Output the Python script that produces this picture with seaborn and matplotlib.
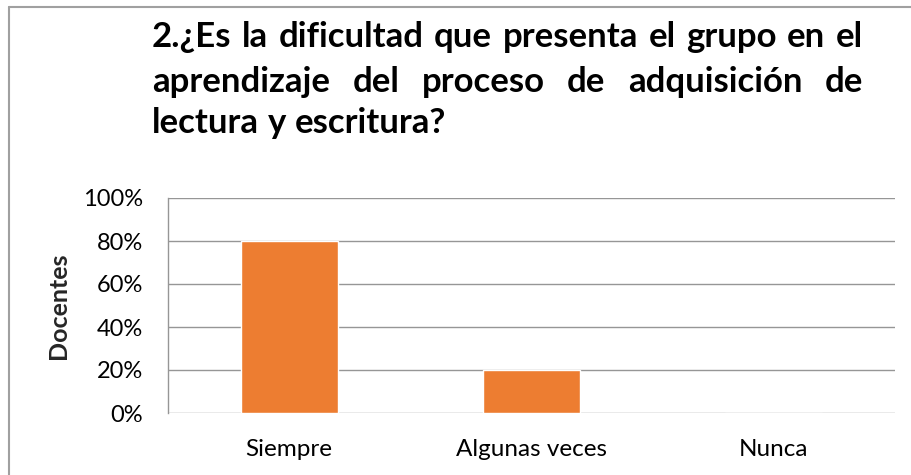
import matplotlib
matplotlib.use("Agg")
import matplotlib.pyplot as plt
import matplotlib.ticker as mtick
from matplotlib.lines import Line2D
import pandas as pd
import seaborn as sns

categorias = ["Siempre", "Algunas veces", "Nunca"]
porcentajes = [0.80, 0.20, 0.00]
titulo = [
    ["2.¿Es", "la", "dificultad", "que", "presenta", "el", "grupo", "en", "el"],
    ["aprendizaje", "del", "proceso", "de", "adquisición", "de"],
    ["lectura", "y", "escritura?"],
]
eje_y = "Docentes"

sns.set_theme(style="white")
plt.rcParams["font.family"] = ["Lato", "DejaVu Sans"]

W, H = 912, 475
fig = plt.figure(figsize=(W / 100, H / 100), dpi=100)
ax = fig.add_axes([168 / W, 62 / H, 727 / W, 215 / H])

df = pd.DataFrame({"cat": categorias, "val": porcentajes})
sns.barplot(data=df, x="cat", y="val", color="#ED7D31", width=0.4,
            saturation=1, ax=ax)

ax.set_ylim(0, 1)
ax.set_yticks([0, 0.2, 0.4, 0.6, 0.8, 1.0])
ax.yaxis.set_major_formatter(mtick.PercentFormatter(1.0, decimals=0))
ax.grid(axis="y", color="#969696", linewidth=1)
ax.set_axisbelow(True)
for s in ["top", "right", "bottom"]:
    ax.spines[s].set_visible(False)
ax.spines["left"].set_color("#969696")
ax.spines["left"].set_linewidth(1)
ax.tick_params(axis="both", length=0, colors="black")
ax.tick_params(axis="y", pad=18, labelsize=17)
ax.tick_params(axis="x", pad=19, labelsize=17.5)
ax.set_xlabel("")
ax.set_ylabel(eje_y, fontsize=18, fontweight="bold", labelpad=9)

# marco exterior (solo arriba e izquierda visibles)
fig.add_artist(Line2D([9 / W, 1], [1 - 7 / H, 1 - 7 / H], color="#a0a0a0",
                      linewidth=1.5, transform=fig.transFigure))
fig.add_artist(Line2D([9 / W, 9 / W], [0, 1 - 7 / H], color="#a0a0a0",
                      linewidth=1.5, transform=fig.transFigure))

# titulo justificado
fig.canvas.draw()
r = fig.canvas.get_renderer()
kw = dict(fontsize=25, fontweight="bold", color="black", va="baseline", ha="left")
izq, der = 152, 863
base = [47, 92, 133]
t1 = fig.text(0, 0, "x x", **kw)
t2 = fig.text(0, 0, "xx", **kw)
espacio = t1.get_window_extent(r).width - t2.get_window_extent(r).width
t1.remove()
t2.remove()
for i, palabras in enumerate(titulo):
    arts = [fig.text(0, 1 - base[i] / H, p, **kw) for p in palabras]
    anchos = [a.get_window_extent(r).width for a in arts]
    if i < len(titulo) - 1:
        hueco = (der - izq - sum(anchos)) / (len(palabras) - 1)
    else:
        hueco = espacio
    x = izq
    for a, w in zip(arts, anchos):
        a.set_x(x / W)
        x += w + hueco

fig.savefig("out.png", dpi=100)
